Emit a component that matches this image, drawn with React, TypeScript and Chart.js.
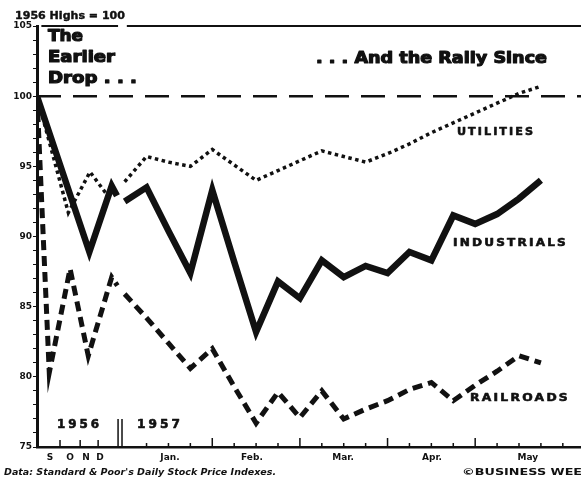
import React, { useEffect, useRef } from 'react';
import { Chart, registerables } from 'chart.js';

Chart.register(...registerables);

// ---- Data (index values, 1956 highs = 100) ----
// 1956 segment: x positions in "1957-week" units (compressed Sept–Dec 1956)
const industrials1956X = [-4, -1.61, -0.59, -0.35];
const industrials1956 = [100, 88.9, 93.6, 92.9];
const utilities1956X = [-4, -2.57, -1.58, -0.67];
const utilities1956 = [100, 91.7, 94.6, 92.7];
const railroads1956X = [-4, -3.44, -2.49, -1.66, -0.59, -0.33];
const railroads1956 = [100, 80.3, 87.7, 81.5, 87.1, 86.5];

// 1957 weekly segment
const weeks1957 = [0, 1, 2, 3, 4, 5, 6, 7, 8, 9, 10, 11, 12, 13, 14, 15, 16, 17, 18, 19];
const industrials1957 = [92.5, 93.5, 90.4, 87.4, 93.3, 88.2, 83.2, 86.8, 85.6, 88.3, 87.1, 87.9, 87.4, 88.9, 88.3, 91.5, 90.9, 91.6, 92.7, 94.0];
const utilities1957 = [93.9, 95.7, 95.3, 95.0, 96.2, 95.1, 94.0, 94.7, 95.4, 96.1, 95.7, 95.3, 95.9, 96.6, 97.4, 98.1, 98.8, 99.5, 100.2, 100.7];
const railroads1957 = [85.9, 84.2, 82.4, 80.6, 82.0, 79.3, 76.7, 78.9, 77.1, 79.0, 77.0, 77.7, 78.3, 79.1, 79.6, 78.3, 79.4, 80.4, 81.5, 81.0];

// Axis labels / ticks
const xLabels = ['S', 'O', 'N', 'D', 'Jan.', 'Feb.', 'Mar.', 'Apr.', 'May'];
const xLabelPos = [-3.41, -2.49, -1.76, -1.12, 2.07, 5.81, 9.97, 14.03, 18.4];
const weekTicks1957 = [1, 2, 3, 5, 6, 7, 9, 10, 11, 13, 14, 15, 17, 18, 19, 20];
const monthStarts1957 = [4, 8, 12, 16];
const monthTicks1956 = [-2.95, -2.03, -1.21];
const yearBreak = [-0.3, -0.12];
const yearLabels = ['1956', '1957'];
const yMin = 75;
const yMax = 105;
const baseLevel = 100;

const seriesNames = ['UTILITIES', 'INDUSTRIALS', 'RAILROADS'];

const pts = (xs: number[], ys: number[]) => xs.map((x, i) => ({ x, y: ys[i] }));
const series = (x56: number[], y56: number[], y57: number[]) => [
  ...pts(x56, y56),
  { x: -0.2, y: null as any },
  ...pts(weeks1957, y57),
];

const INK = '#111';
const FONT = '"DejaVu Sans", sans-serif';

function fitText(ctx: CanvasRenderingContext2D, text: string, x: number, y: number, width: number, font: string, spacing = '0px', stroke = 0) {
  ctx.save();
  ctx.font = font;
  (ctx as any).letterSpacing = spacing;
  ctx.textBaseline = 'middle';
  ctx.textAlign = 'left';
  const w = ctx.measureText(text).width;
  ctx.translate(x, y);
  ctx.scale(width / w, 1);
  ctx.fillStyle = INK;
  ctx.fillText(text, 0, 0);
  if (stroke > 0) {
    ctx.strokeStyle = INK;
    ctx.lineWidth = stroke;
    ctx.lineJoin = 'round';
    ctx.strokeText(text, 0, 0);
  }
  ctx.restore();
}

const decorPlugin = {
  id: 'decor',
  beforeDatasetsDraw(chart: any) {
    const { ctx, chartArea } = chart;
    const xs = chart.scales.x;
    const ys = chart.scales.y;
    ctx.save();
    ctx.strokeStyle = INK;
    const y100 = ys.getPixelForValue(baseLevel);
    ctx.lineWidth = 2.5;
    ctx.setLineDash([24, 12]);
    ctx.beginPath();
    ctx.moveTo(chartArea.left, y100);
    ctx.lineTo(chartArea.right, y100);
    ctx.stroke();
    ctx.setLineDash([]);
    ctx.lineWidth = 2;
    const yTop = ys.getPixelForValue(yMax);
    ctx.beginPath();
    ctx.moveTo(xs.getPixelForValue(-3.8), yTop);
    ctx.lineTo(xs.getPixelForValue(yearBreak[0]), yTop);
    ctx.moveTo(xs.getPixelForValue(0.1), yTop);
    ctx.lineTo(chartArea.right, yTop);
    ctx.stroke();
    ctx.restore();
  },
  afterDraw(chart: any) {
    const { ctx, chartArea } = chart;
    const xs = chart.scales.x;
    const bottom = chartArea.bottom;
    ctx.save();
    ctx.strokeStyle = INK;
    ctx.fillStyle = INK;
    ctx.lineWidth = 1.5;
    ctx.beginPath();
    weekTicks1957.forEach((w) => {
      const px = xs.getPixelForValue(w);
      ctx.moveTo(px, bottom);
      ctx.lineTo(px, bottom - 4);
    });
    monthStarts1957.forEach((w) => {
      const px = xs.getPixelForValue(w);
      ctx.moveTo(px, bottom);
      ctx.lineTo(px, bottom - 9);
    });
    monthTicks1956.forEach((w) => {
      const px = xs.getPixelForValue(w);
      ctx.moveTo(px, bottom);
      ctx.lineTo(px, bottom - 7);
    });
    yearBreak.forEach((w) => {
      const px = xs.getPixelForValue(w);
      ctx.moveTo(px, bottom);
      ctx.lineTo(px, bottom - 28);
    });
    ctx.stroke();
    ctx.restore();

    fitText(ctx, yearLabels[0], 57, bottom - 22, 45, `bold 12px ${FONT}`, '3px', 0.6);
    fitText(ctx, yearLabels[1], 137, bottom - 22, 46, `bold 12px ${FONT}`, '3px', 0.6);

    fitText(ctx, '1956 Highs = 100', 15, 16, 110, `bold 10px ${FONT}`, '0px', 0.4);
    fitText(ctx, 'The', 48, 37, 35, `bold 16px ${FONT}`, '0px', 1.2);
    fitText(ctx, 'Earlier', 48, 58, 67, `bold 16px ${FONT}`, '0px', 1.2);
    fitText(ctx, 'Drop . . .', 48, 79, 89, `bold 16px ${FONT}`, '0px', 1.2);
    fitText(ctx, '. . . And the Rally Since', 316, 59, 231, `bold 15px ${FONT}`, '0px', 1.1);

    fitText(ctx, seriesNames[0], 457, 132, 78, `bold 11px ${FONT}`, '2px', 0.6);
    fitText(ctx, seriesNames[1], 453, 243, 115, `bold 11px ${FONT}`, '2px', 0.6);
    fitText(ctx, seriesNames[2], 470, 398, 100, `bold 11px ${FONT}`, '2px', 0.6);

    fitText(ctx, "Data: Standard & Poor's Daily Stock Price Indexes.", 4, 473, 272, `italic bold 8px ${FONT}`);
    fitText(ctx, '\u00A9BUSINESS WEEK', 462, 473, 130, `bold 8px ${FONT}`);
  },
};

export default function App() {
  const ref = useRef<HTMLCanvasElement>(null);
  useEffect(() => {
    if (!ref.current) return;
    const chart = new Chart(ref.current, {
      type: 'line',
      data: {
        datasets: [
          {
            label: 'RAILROADS',
            data: series(railroads1956X, railroads1956, railroads1957),
            borderColor: INK,
            borderWidth: 5,
            borderDash: [10, 6],
            pointRadius: 0,
            spanGaps: false,
            tension: 0,
          },
          {
            label: 'UTILITIES',
            data: series(utilities1956X, utilities1956, utilities1957),
            borderColor: INK,
            borderWidth: 3.5,
            borderDash: [3.5, 3.5],
            pointRadius: 0,
            spanGaps: false,
            tension: 0,
          },
          {
            label: 'INDUSTRIALS',
            data: series(industrials1956X, industrials1956, industrials1957),
            borderColor: INK,
            borderWidth: 6.5,
            borderJoinStyle: 'miter',
            pointRadius: 0,
            spanGaps: false,
            tension: 0,
          },
        ] as any,
      },
      options: {
        animation: false,
        responsive: false,
        maintainAspectRatio: false,
        layout: { padding: { top: 26, left: 0, right: 0, bottom: 0 } },
        plugins: { legend: { display: false }, tooltip: { enabled: false } },
        scales: {
          x: {
            type: 'linear',
            min: -4,
            max: 20.83,
            afterFit: (s: any) => { s.height = 30; },
            afterBuildTicks: (s: any) => { s.ticks = xLabelPos.map((v) => ({ value: v })); },
            grid: { display: false, drawTicks: false },
            border: { display: true, color: INK, width: 2.5 },
            ticks: {
              autoSkip: false,
              maxRotation: 0,
              padding: 5,
              color: INK,
              font: { family: FONT, size: 9, weight: 'bold' },
              callback: (_v: any, i: number) => xLabels[i],
            },
          },
          y: {
            type: 'linear',
            min: yMin,
            max: yMax,
            afterFit: (s: any) => { s.width = 37; },
            grid: { drawOnChartArea: false, drawTicks: true, tickLength: 4, color: INK, lineWidth: 1 },
            border: { display: true, color: INK, width: 3 },
            ticks: {
              stepSize: 1,
              autoSkip: false,
              padding: 1,
              color: INK,
              font: { family: FONT, size: 9, weight: 'bold' },
              callback: (v: any) => (Number(v) % 5 === 0 ? String(v) : ''),
            },
          },
        },
      } as any,
      plugins: [decorPlugin],
    });
    return () => chart.destroy();
  }, []);
  return (
    <div style={{ position: 'absolute', left: 0, top: 0, width: 581, height: 477, background: '#fff' }}>
      <canvas ref={ref} width={581} height={477} style={{ display: 'block' }} />
    </div>
  );
}
